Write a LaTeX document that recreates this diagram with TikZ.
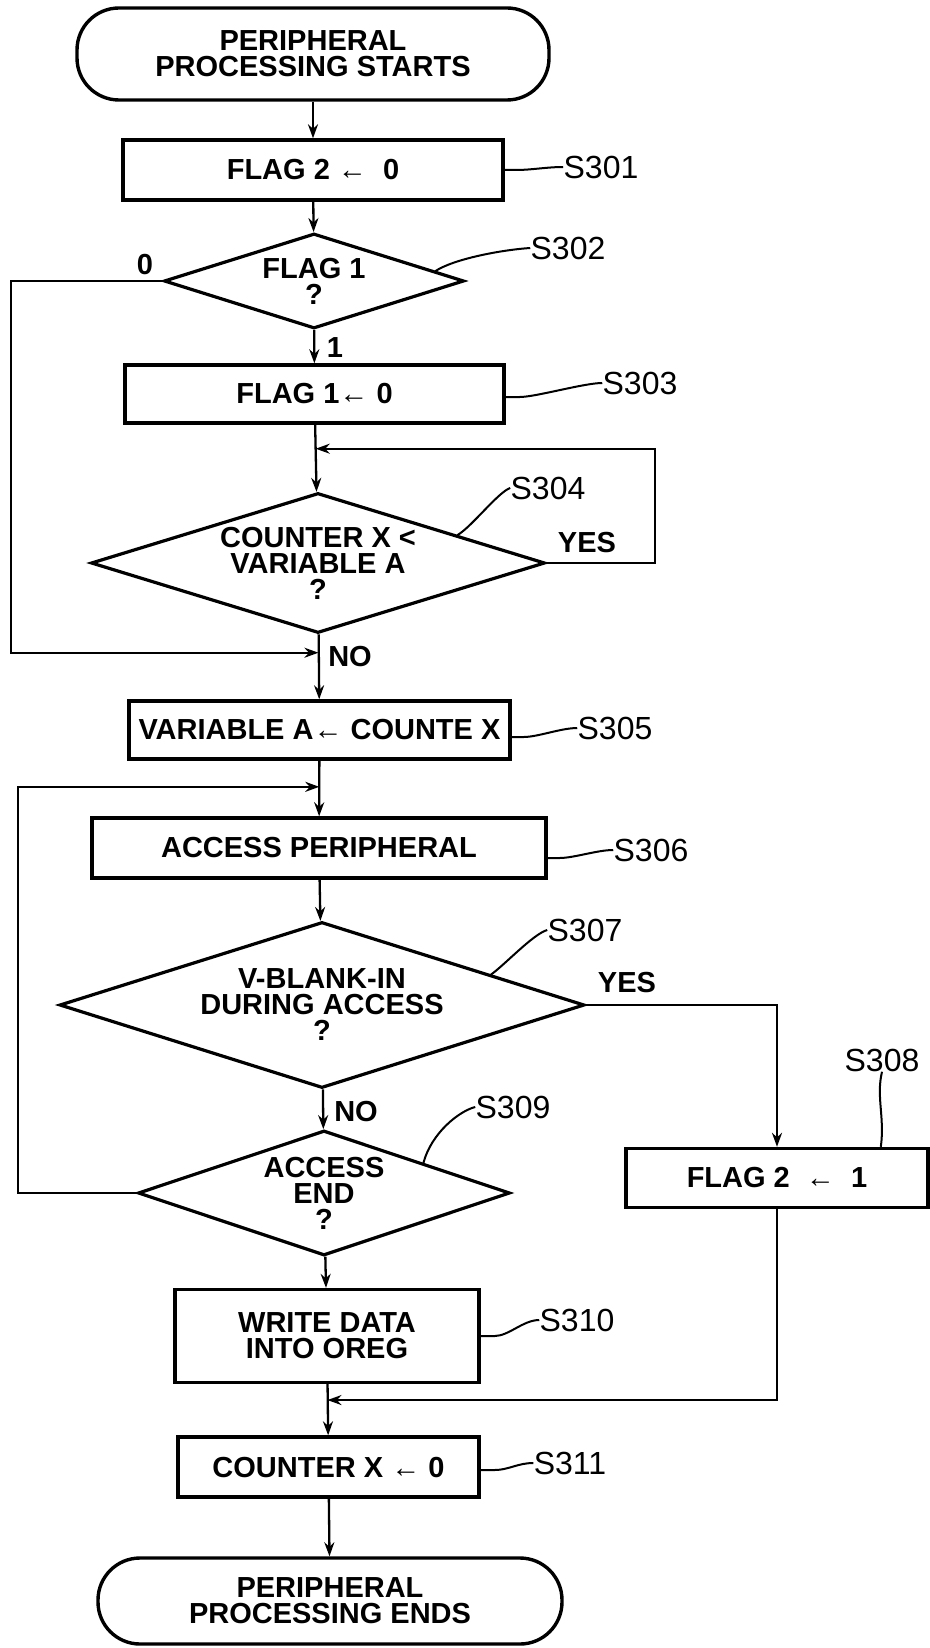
\documentclass[tikz,border=0pt]{standalone}
\usepackage{fontspec}
\setmainfont{Liberation Sans}
\usetikzlibrary{shapes.geometric,arrows.meta,calc}
\begin{document}
\begin{tikzpicture}[x=0.5pt,y=-0.5pt,
  every node/.style={font=\fontsize{14.5}{13}\selectfont\bfseries, align=center, inner sep=0pt},
  box/.style={draw, line width=1.7pt, rectangle},
  term/.style={draw, line width=1.7pt, rectangle, rounded corners=21pt},
  dia/.style={draw, line width=1.6pt, diamond},
  lbl/.style={font=\fontsize{16}{16}\selectfont},
  ln/.style={line width=1.15pt},
  lead/.style={line width=1pt},
  arr/.style={ln, -{Stealth[length=7pt,width=5pt]}}
]
\useasboundingbox (0,0) rectangle (930,1648);

% nodes
\node[term, minimum width=236pt, minimum height=46pt] (start) at (313,54) {PERIPHERAL\\PROCESSING STARTS};
\node[box, minimum width=190pt, minimum height=30pt] (s301) at (313,170) {FLAG 2 ← \ 0};
\node[dia, aspect=3.16, minimum width=150pt, minimum height=47.5pt] (s302) at (314,281) {FLAG 1\\?};
\node[box, minimum width=189.5pt, minimum height=29pt] (s303) at (314.5,394) {FLAG 1← 0};
\node[dia, aspect=3.24, minimum width=227pt, minimum height=70pt] (s304) at (318,563) {COUNTER X <\\VARIABLE A\\?};
\node[box, minimum width=190.5pt, minimum height=29pt] (s305) at (319.5,730) {VARIABLE A← COUNTE X};
\node[box, minimum width=227pt, minimum height=30pt] (s306) at (319,848) {ACCESS PERIPHERAL};
\node[dia, aspect=3.16, minimum width=262.5pt, minimum height=83pt] (s307) at (322,1005) {V-BLANK-IN\\DURING ACCESS\\?};
\node[box, minimum width=151pt, minimum height=29.5pt] (s308) at (777,1178) {FLAG 2 \ ← \ 1};
\node[dia, aspect=2.98, minimum width=186pt, minimum height=62.5pt] (s309) at (324,1193) {ACCESS\\END\\?};
\node[box, minimum width=152pt, minimum height=46.5pt] (s310) at (327,1336) {WRITE DATA\\INTO OREG};
\node[box, minimum width=150.5pt, minimum height=30pt] (s311) at (328.5,1467) {COUNTER X ← 0};
\node[term, minimum width=232pt, minimum height=43pt] (end) at (330,1601) {PERIPHERAL\\PROCESSING ENDS};

% step labels
\node[lbl] (l301) at (601,167) {S301};
\node[lbl] (l302) at (568,248) {S302};
\node[lbl] (l303) at (640,383) {S303};
\node[lbl] (l304) at (548,488) {S304};
\node[lbl] (l305) at (615,728) {S305};
\node[lbl] (l306) at (651,850) {S306};
\node[lbl] (l307) at (585,930) {S307};
\node[lbl] (l308) at (882,1060) {S308};
\node[lbl] (l309) at (513,1107) {S309};
\node[lbl] (l310) at (577,1320) {S310};
\node[lbl] (l311) at (570,1463) {S311};

% branch labels
\node (t0) at (145,265) {0};
\node (t1) at (335,348) {1};
\node (tyes1) at (587,543) {YES};
\node (tno1) at (350,657) {NO};
\node (tyes2) at (627,983) {YES};
\node (tno2) at (356,1112) {NO};

% junctions
\coordinate (j1) at ($(s303.south)!0.36!(s304.north)$);
\coordinate (j2) at ($(s304.south)!0.28!(s305.north)$);
\coordinate (j3) at ($(s305.south)!0.47!(s306.north)$);
\coordinate (j4) at ($(s310.south)!0.31!(s311.north)$);
\coordinate (rx) at (655,0);
\coordinate (lx1) at (11,0);
\coordinate (lx2) at (18,0);

% main flow
\draw[arr] (start) -- (s301);
\draw[arr] (s301) -- (s302);
\draw[arr] (s302) -- (s303);
\draw[arr] (s303) -- (s304);
\draw[arr] (s304) -- (s305);
\draw[arr] (s305) -- (s306);
\draw[arr] (s306) -- (s307);
\draw[arr] (s307) -- (s309);
\draw[arr] (s309) -- (s310);
\draw[arr] (s310) -- (s311);
\draw[arr] (s311) -- (end);

% loops and branches
\draw[arr] (s304.east) -| (j1 -| rx) -- (j1);
\draw[arr] (s302.west) -| (j2 -| lx1) -- (j2);
\draw[arr] (s309.west) -| (j3 -| lx2) -- (j3);
\draw[arr] (s307.east) -| (s308.north);
\draw[arr] (s308.south) |- (j4);

% leaders
\draw[lead] (s301.east) -- ++(12,0) .. controls +(14,0) and +(-16,0) .. (l301.west);
\draw[lead] ($(s302.north)!0.8!(s302.east)$) .. controls +(18,-12) and +(-30,2) .. (l302.west);
\draw[lead] ($(s303.east)+(0,3)$) -- ++(14,0) .. controls +(16,0) and +(-18,0) .. (l303.west);
\draw[lead] ($(s304.north)!0.61!(s304.east)$) .. controls +(14,-8) and +(-12,4) .. (l304.west);
\draw[lead] ($(s305.east)+(0,7)$) -- ++(12,0) .. controls +(14,0) and +(-16,0) .. (l305.west);
\draw[lead] ($(s306.east)+(0,10)$) -- ++(12,0) .. controls +(14,0) and +(-16,0) .. (l306.west);
\draw[lead] ($(s307.north)!0.64!(s307.east)$) .. controls +(14,-10) and +(-14,4) .. (l307.west);
\draw[lead] ($(s308.north)!0.68!(s308.north east)$) .. controls +(4,-30) and +(-6,25) .. (l308.south);
\draw[lead] ($(s309.north)!0.53!(s309.east)$) .. controls +(8,-30) and +(-16,4) .. (l309.west);
\draw[lead] (s310.east) -- ++(14,0) .. controls +(14,0) and +(-16,0) .. (l310.west);
\draw[lead] ($(s311.east)+(0,3)$) -- ++(14,0) .. controls +(14,0) and +(-16,0) .. (l311.west);
\end{tikzpicture}
\end{document}
